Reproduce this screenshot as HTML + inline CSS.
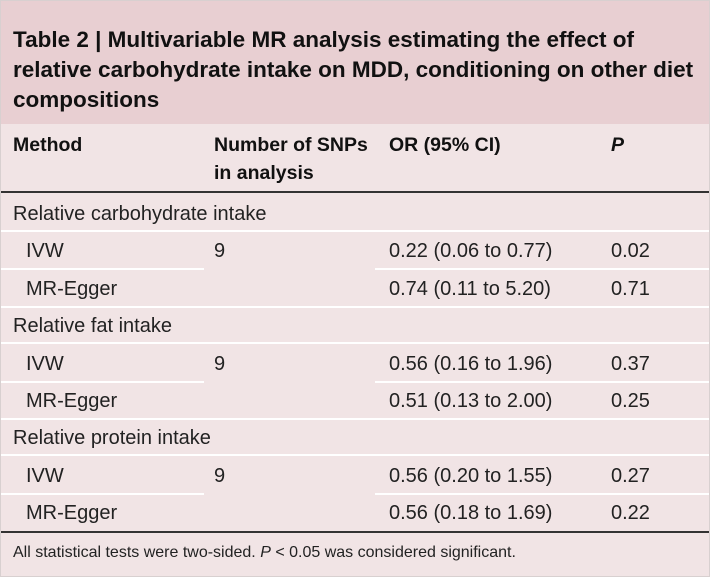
<!DOCTYPE html>
<html><head><meta charset="utf-8"><style>
body{margin:0;width:710px;height:577px;background:#fff;font-family:"Liberation Sans",sans-serif;overflow:hidden}
#t{position:absolute;left:0;top:0;width:708px;height:575px;border:1px solid #d8d0d0;background:#f1e4e5}
.title{position:absolute;left:0;top:0;width:708px;height:123px;background:#e8cfd2}
.tt{position:absolute;left:12px;font-weight:bold;font-size:22.5px;color:#111;white-space:nowrap;line-height:26px}
.x{position:absolute;font-size:20px;color:#222;white-space:nowrap;line-height:22px}
.b{font-weight:bold;color:#111;font-size:19.5px}
.w{position:absolute;height:2px;background:#fff}
.k{position:absolute;left:0;width:708px;height:2px;background:#333}
</style></head><body>
<div id="t">
<div class="title">
<div class="tt" style="top:26px">Table 2 | Multivariable MR analysis estimating the effect of</div>
<div class="tt" style="top:56px">relative carbohydrate intake on MDD, conditioning on other diet</div>
<div class="tt" style="top:86px">compositions</div>
</div>
<div class="x b" style="left:12px;top:133px">Method</div>
<div class="x b" style="left:213px;top:133px">Number of SNPs</div>
<div class="x b" style="left:213px;top:161px">in analysis</div>
<div class="x b" style="left:388px;top:133px">OR (95% CI)</div>
<div class="x b" style="left:610px;top:133px;font-style:italic">P</div>
<div class="k" style="top:190px"></div>
<div id="rows"></div>
<div class="k" style="top:530px"></div>
<div class="x" style="left:12px;top:541px;font-size:16px">All statistical tests were two-sided. <i>P</i> &lt; 0.05 was considered significant.</div>
</div>
<script>
const groups=["Relative carbohydrate intake","Relative fat intake","Relative protein intake"];
const methods=["IVW","MR-Egger"];
const nsnps=["9","9","9"];
const ors=[["0.22 (0.06 to 0.77)","0.74 (0.11 to 5.20)"],["0.56 (0.16 to 1.96)","0.51 (0.13 to 2.00)"],["0.56 (0.20 to 1.55)","0.56 (0.18 to 1.69)"]];
const ps=[["0.02","0.71"],["0.37","0.25"],["0.27","0.22"]];
const R=document.getElementById('rows');
function txt(s,x,y,name){const d=document.createElement('div');d.className='x';d.style.left=x+'px';d.style.top=(y-11)+'px';d.textContent=s;


R.appendChild(d);}
function line(x,w,y){const d=document.createElement('div');d.className='w';d.style.left=x+'px';d.style.width=w+'px';d.style.top=y+'px';R.appendChild(d);}
const pitch=37.4;
groups.forEach((g,i)=>{
 const y0=213+i*3*pitch;
 txt(g,12,y0,'group-label');
 line(0,708,y0+16);
 methods.forEach((m,j)=>{
  const y=y0+(j+1)*pitch;
  txt(m,25,y,'method-label');
  txt(ors[i][j],388,y,'odds-ratio');
  txt(ps[i][j],610,y,'p-value');
  if(j==0){txt(nsnps[i],213,y,'snp-count');line(0,203,y+17);line(374,334,y+17);}
  else if(i<2) line(0,708,y+17);
 });
});
</script>
</body></html>
